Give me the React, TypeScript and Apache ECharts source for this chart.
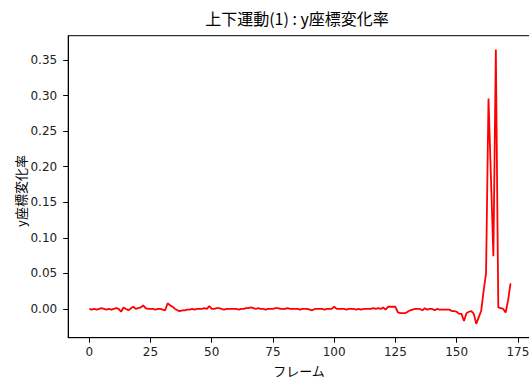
import React, { useEffect, useRef } from "react";
import * as echarts from "echarts";

const titleText = "上下運動(1) : y座標変化率";
const xName = "フレーム";
const yName = "y座標変化率";
const xTicks = [0, 25, 50, 75, 100, 125, 150, 175];
const yTicks = [0, 0.05, 0.1, 0.15, 0.2, 0.25, 0.3, 0.35];

const rate = [
  0.0, -0.001, 0.0, -0.001, 0.0, 0.001, 0.0, -0.001, 0.0, -0.001,
  0.0, 0.001, 0.0, -0.004, 0.002, 0.0, -0.002, 0.001, 0.003, 0.0,
  0.001, 0.002, 0.005, 0.001, 0.0, 0.0, 0.0, -0.001, 0.0, 0.0,
  -0.001, -0.002, 0.008, 0.005, 0.003, 0.0, -0.002, -0.003, -0.002, -0.002,
  -0.001, -0.001, 0.0, -0.001, 0.0, 0.0, 0.0, 0.001, 0.0,
  0.004, 0.0, 0.0, 0.001, 0.001, 0.0, -0.001, 0.0, 0.0, 0.0,
  0.0, 0.0, -0.001, 0.0, 0.0, 0.001, 0.001, 0.002, 0.001, 0.0,
  0.001, 0.0, 0.0, -0.001, 0.0, 0.0, 0.0, 0.001, 0.001, 0.0,
  0.0, 0.0, 0.001, 0.0, 0.0, 0.0, 0.0, -0.001, 0.0, 0.0,
  0.0, -0.001, -0.002, 0.0, 0.0, 0.0, 0.0, -0.001, 0.0, 0.0,
  0.0, 0.003, 0.0, 0.0, 0.0, 0.0, -0.001, 0.0, 0.0, 0.0,
  -0.001, 0.0, -0.001, 0.0, 0.0, 0.0, 0.0, 0.001, 0.0,
  0.001, 0.0, 0.002, -0.001, 0.003, 0.003, 0.003, 0.003, -0.005, -0.006,
  -0.006, -0.006, -0.004, -0.002, -0.001, 0.0, 0.0, 0.0, -0.002, 0.001,
  -0.001, 0.0, 0.0, -0.002, 0.0, -0.001, -0.001, -0.001, -0.001, -0.001,
  -0.003, -0.003, -0.004, -0.007, -0.007, -0.017, -0.006, -0.004, -0.003, -0.007,
  -0.021, -0.012, -0.003, 0.025, 0.05, 0.296, 0.185, 0.074, 0.365, 0.002,
  0.001, 0.0, -0.005, 0.012, 0.036,
];

const CJK = "'Noto Sans CJK JP', sans-serif";
const NUM = "'DejaVu Sans', sans-serif";

export default function App() {
  const ref = useRef<HTMLDivElement>(null);
  useEffect(() => {
    if (!ref.current) return;
    const chart = echarts.init(ref.current, null, { renderer: "svg" });
    const data = rate.map((v, i) => [i, v]);
    chart.setOption({
      animation: false,
      backgroundColor: "#fff",
      graphic: [
        {
          type: "text",
          x: 297,
          y: 18,
          style: {
            text: titleText,
            fontSize: 16,
            fontFamily: CJK,
            fill: "#000",
            textAlign: "center",
            textVerticalAlign: "middle",
          },
        },
        {
          type: "text",
          x: 299,
          y: 370,
          style: {
            text: xName,
            fontSize: 13,
            fontFamily: CJK,
            fill: "#000",
            textAlign: "center",
            textVerticalAlign: "middle",
          },
        },
        {
          type: "text",
          x: 20,
          y: 191,
          rotation: Math.PI / 2,
          style: {
            text: yName,
            fontSize: 13,
            fontFamily: CJK,
            fill: "#000",
            textAlign: "center",
            textVerticalAlign: "middle",
          },
        },
      ],
      grid: {
        left: 68.2,
        top: 35.7,
        width: 463.4,
        height: 302,
        outerBoundsMode: "none",
        containLabel: false,
        show: true,
        borderColor: "#000",
        borderWidth: 1,
        backgroundColor: "transparent",
      },
      xAxis: {
        type: "value",
        min: -8.6,
        max: 180.6,
        axisLine: { show: true, onZero: false, lineStyle: { color: "#000", width: 1 } },
        axisTick: { show: true, length: 5, lineStyle: { color: "#000" }, customValues: xTicks },
        axisLabel: { fontSize: 12, color: "#222", margin: 8, customValues: xTicks, fontFamily: NUM },
        splitLine: { show: false },
      },
      yAxis: {
        type: "value",
        min: -0.0405,
        max: 0.3843,
        axisLine: { show: true, onZero: false, lineStyle: { color: "#000", width: 1 } },
        axisTick: { show: true, length: 5, lineStyle: { color: "#000" }, customValues: yTicks },
        axisLabel: {
          fontSize: 12,
          color: "#222",
          margin: 11,
          customValues: yTicks,
          fontFamily: NUM,
          formatter: (v: number) => v.toFixed(2),
        },
        splitLine: { show: false },
      },
      series: [
        {
          type: "line",
          data,
          showSymbol: false,
          symbol: "none",
          lineStyle: { color: "#ff0000", width: 1.8 },
          itemStyle: { color: "#ff0000" },
        },
      ],
    });
    return () => chart.dispose();
  }, []);
  return (
    <div
      ref={ref}
      style={{ position: "absolute", left: 0, top: 0, width: 529, height: 379 }}
    />
  );
}
